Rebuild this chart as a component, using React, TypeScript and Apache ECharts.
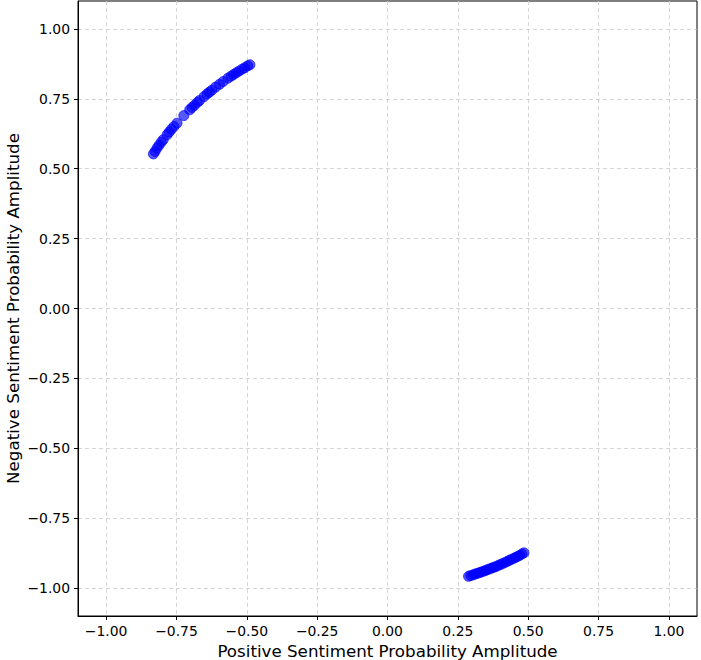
import React, { useEffect, useRef } from "react";
import * as echarts from "echarts";

const tickValues = [-1.0, -0.75, -0.5, -0.25, 0.0, 0.25, 0.5, 0.75, 1.0];

const xLabel = "Positive Sentiment Probability Amplitude";
const yLabel = "Negative Sentiment Probability Amplitude";

const clusterUpperLeft: [number, number][] = [
  [-0.832, 0.553], [-0.826, 0.562], [-0.819, 0.574], [-0.812, 0.584],
  [-0.804, 0.595], [-0.797, 0.604], [-0.783, 0.622], [-0.776, 0.631],
  [-0.768, 0.641], [-0.759, 0.651], [-0.748, 0.663], [-0.724, 0.690],
  [-0.703, 0.711], [-0.695, 0.719], [-0.686, 0.727], [-0.676, 0.737],
  [-0.668, 0.744], [-0.652, 0.758], [-0.641, 0.768], [-0.633, 0.774],
  [-0.624, 0.781], [-0.611, 0.792], [-0.597, 0.802], [-0.584, 0.812],
  [-0.567, 0.824], [-0.556, 0.831], [-0.547, 0.837], [-0.538, 0.843],
  [-0.528, 0.849], [-0.517, 0.856], [-0.508, 0.861], [-0.497, 0.868],
  [-0.489, 0.872],
];

const clusterLowerRight: [number, number][] = [
  [0.288, -0.958], [0.296, -0.955], [0.304, -0.953], [0.311, -0.950],
  [0.318, -0.948], [0.326, -0.945], [0.333, -0.943], [0.341, -0.940],
  [0.349, -0.937], [0.356, -0.934], [0.364, -0.931], [0.372, -0.928],
  [0.380, -0.925], [0.388, -0.922], [0.396, -0.918], [0.404, -0.915],
  [0.412, -0.911], [0.421, -0.907], [0.429, -0.903], [0.437, -0.899],
  [0.446, -0.895], [0.454, -0.891], [0.462, -0.887], [0.470, -0.883],
  [0.478, -0.878], [0.485, -0.874],
];

const fmt = (v: number) => v.toFixed(2).replace("-", "\u2212");

export default function App() {
  const ref = useRef<HTMLDivElement>(null);
  useEffect(() => {
    if (!ref.current) return;
    const chart = echarts.init(ref.current, null, { renderer: "svg" });
    const font = "DejaVu Sans";
    const axisCommon = (name: string, isY: boolean) => ({
      type: "value" as const,
      min: -1.1,
      max: 1.1,
      name,
      nameLocation: "middle" as const,
      nameGap: isY ? 57 : 26,
      nameMoveOverlap: isY ? false : true,
      nameTextStyle: { fontFamily: font, fontSize: 16.7, color: "#000" },
      axisLine: { show: true, onZero: false, lineStyle: { color: "#000", width: 1 } },
      axisTick: {
        show: true,
        inside: false,
        length: 4,
        lineStyle: { color: "#000", width: 1 },
        customValues: tickValues,
      },
      axisLabel: {
        fontFamily: font,
        fontSize: 13.9,
        color: "#000",
        margin: 8,
        customValues: tickValues,
        formatter: (v: number) => fmt(v),
      },
      splitLine: {
        show: true,
        lineStyle: { color: "#cccccc", type: [4, 3], width: 0.8 },
      },
    });
    const dotStyle = {
      color: "rgba(0,0,255,0.82)",
      borderColor: "rgba(0,0,255,0.82)",
      borderWidth: 1,
    };
    chart.setOption({
      animation: false,
      backgroundColor: "#fff",
      grid: {
        left: 78,
        top: 1,
        right: 4,
        bottom: 44,
        containLabel: false,
        outerBoundsMode: "none",
        show: true,
        borderColor: "#000",
        borderWidth: 1,
        backgroundColor: "transparent",
      },
      xAxis: axisCommon(xLabel, false),
      yAxis: axisCommon(yLabel, true),
      series: [
        {
          type: "scatter",
          data: clusterUpperLeft,
          symbolSize: 10,
          itemStyle: dotStyle,
        },
        {
          type: "scatter",
          data: clusterLowerRight,
          symbolSize: 10,
          itemStyle: dotStyle,
        },
      ],
    });
    return () => chart.dispose();
  }, []);
  return (
    <div
      ref={ref}
      style={{ position: "fixed", left: 0, top: 0, width: 701, height: 660 }}
    />
  );
}
